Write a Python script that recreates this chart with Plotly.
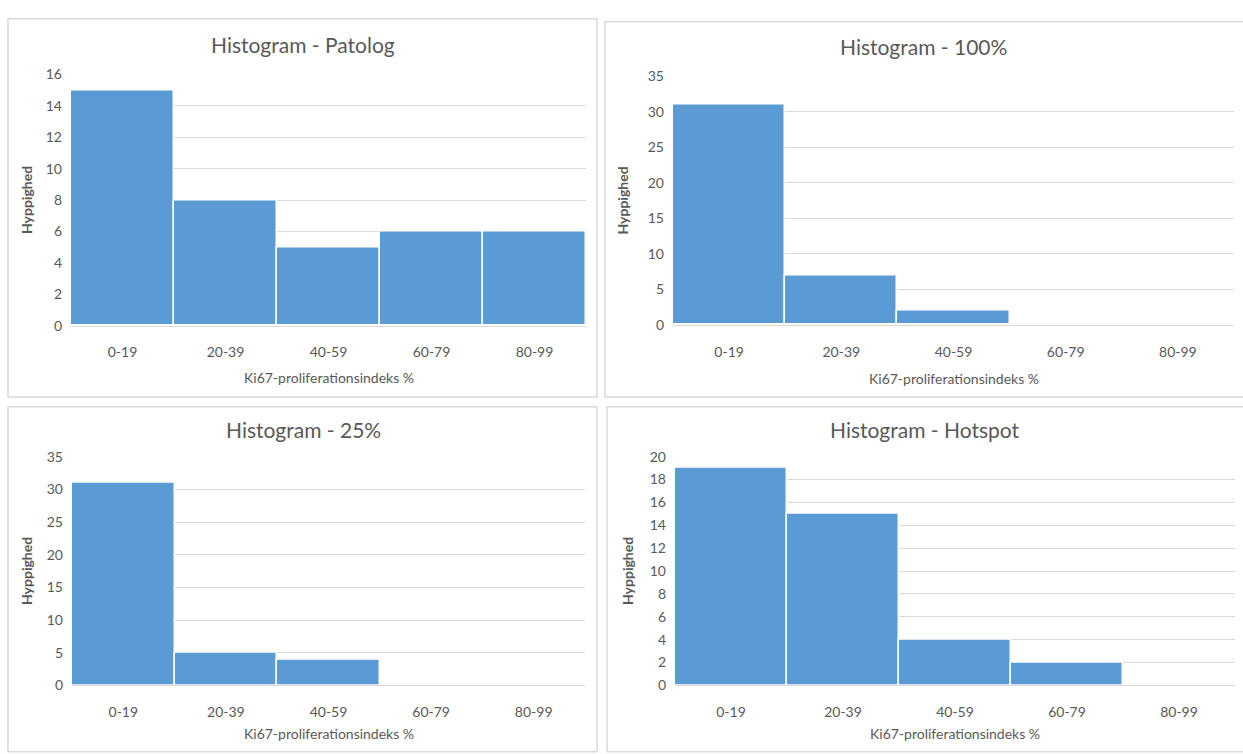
import plotly.graph_objects as go

# Ki67 proliferation index bins (shared by all four histograms)
categories = ["0-19", "20-39", "40-59", "60-79", "80-99"]

# Counts per bin for each assessment method
patolog = [15, 8, 5, 6, 6]
pct100 = [31, 7, 2, 0, 0]
pct25 = [31, 5, 4, 0, 0]
hotspot = [19, 15, 4, 2, 0]

titles = ["Histogram - Patolog", "Histogram - 100%", "Histogram - 25%", "Histogram - Hotspot"]
y_max = [16, 35, 35, 20]
y_step = [2, 5, 5, 2]

x_title = "Ki67-proliferationsindeks %"
y_title = "Hyppighed"

W, H = 1243, 754
FONT = "Lato"
TEXT = "#595959"
GRID = "#D9D9D9"
BAR = "#5B9BD5"


def fx(px):
    return px / W


def fy(py):
    return 1 - py / H


# plot areas (left, right, top, bottom) and panel frames in pixels
plot_boxes = [
    (71, 586, 67, 324),
    (673, 1234, 69, 323),
    (72, 585, 458, 692),
    (675, 1235, 458, 692),
]
frames = [
    (8, 597, 10, 397),
    (605, 1250, 13, 397),
    (8, 597, 407, 760),
    (607, 1250, 407, 760),
]
title_x = [303, 923, 303, 925]
title_y = [36, 38, 430, 430]
xtitle_y = [377, 378, 741, 741]
ytitle_x = [26, 623, 26, 627]

series = [patolog, pct100, pct25, hotspot]

fig = go.Figure()
annotations = []
shapes = []

for i, vals in enumerate(series):
    n = "" if i == 0 else str(i + 1)
    l, r, t, b = plot_boxes[i]
    fig.add_trace(go.Bar(
        x=categories, y=vals,
        xaxis="x" + n, yaxis="y" + n,
        marker=dict(color=BAR,
                    line=dict(color="white", width=[1.5 if v > 0 else 0 for v in vals])),
        width=1.0,
        showlegend=False,
        hoverinfo="x+y",
    ))
    fig.layout["xaxis" + n] = dict(
        domain=[fx(l), fx(r)], anchor="y" + n,
        type="category", range=[-0.5, 4.5],
        showgrid=False, showline=True, linecolor=GRID, linewidth=1,
        ticks="", ticklabelstandoff=14,
        tickfont=dict(family=FONT, size=14, color=TEXT),
        fixedrange=True,
    )
    fig.layout["yaxis" + n] = dict(
        domain=[fy(b), fy(t)], anchor="x" + n,
        range=[0, y_max[i]], dtick=y_step[i], tick0=0,
        showgrid=True, gridcolor=GRID, gridwidth=1,
        zeroline=False, showline=False,
        ticks="", ticklabelstandoff=8,
        tickfont=dict(family=FONT, size=14, color=TEXT),
        fixedrange=True,
    )
    annotations.append(dict(
        text=titles[i], xref="paper", yref="paper",
        x=fx(title_x[i]), y=fy(title_y[i]),
        xanchor="center", yanchor="middle", showarrow=False,
        font=dict(family=FONT, size=21, color=TEXT),
    ))
    annotations.append(dict(
        text=x_title, xref="paper", yref="paper",
        x=fx((l + r) / 2), y=fy(xtitle_y[i]), xanchor="center", yanchor="middle",
        showarrow=False, font=dict(family=FONT, size=14, color=TEXT),
    ))
    annotations.append(dict(
        text="<b>" + y_title + "</b>", xref="paper", yref="paper",
        x=fx(ytitle_x[i]), y=fy((t + b) / 2), xanchor="center", yanchor="middle",
        textangle=-90, showarrow=False,
        font=dict(family=FONT, size=14, color=TEXT),
    ))
    fl, fr, ft, fb = frames[i]
    shapes.append(dict(
        type="rect", xref="paper", yref="paper",
        x0=fx(fl), x1=fx(fr), y0=fy(fb), y1=fy(ft),
        line=dict(color=GRID, width=1.5), fillcolor="rgba(0,0,0,0)",
        layer="below",
    ))

fig.update_layout(
    width=W, height=H,
    margin=dict(l=0, r=0, t=0, b=0),
    paper_bgcolor="white", plot_bgcolor="white",
    bargap=0,
    annotations=annotations,
    shapes=shapes,
    font=dict(family=FONT, color=TEXT),
)

fig.write_html("out.html", config={"displayModeBar": False})
